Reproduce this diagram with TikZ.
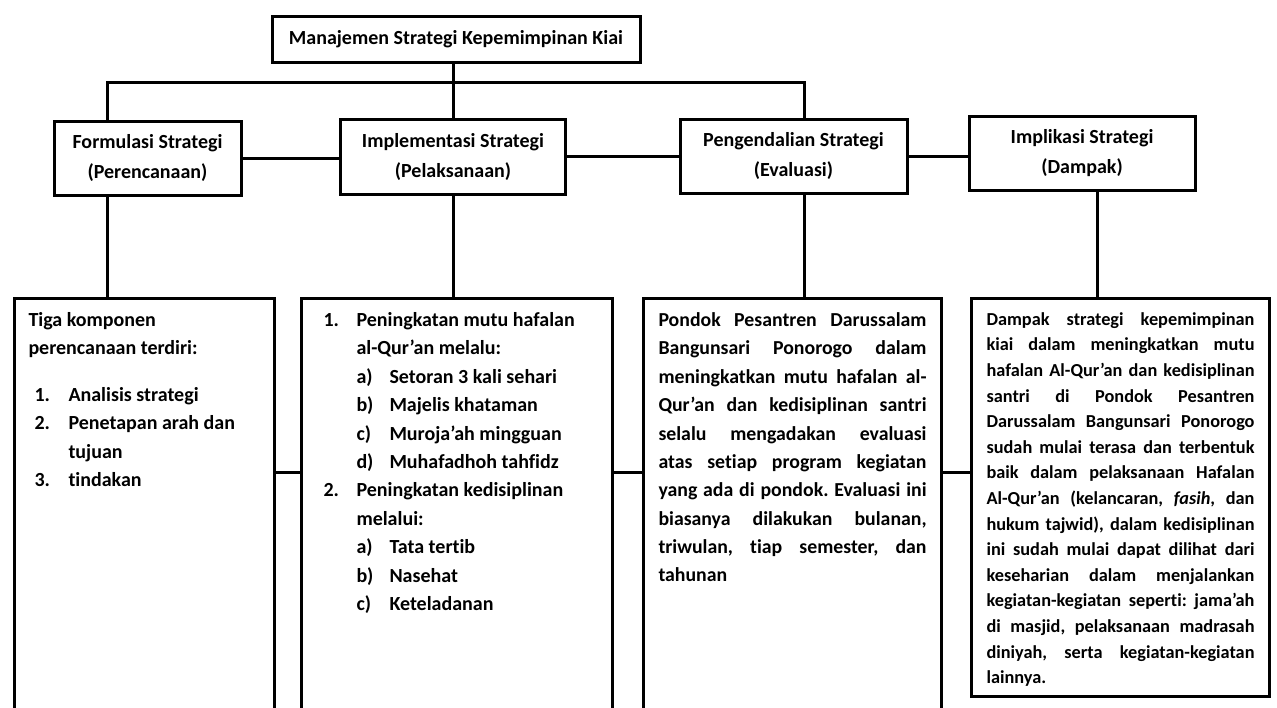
\documentclass[tikz,border=0pt]{standalone}
\usepackage{fontspec}
\setmainfont{Carlito}[Ligatures={TeX,NoCommon}]
\frenchspacing
\newcommand{\jline}[1]{\makebox[\linewidth][s]{#1}\\}
\begin{document}
\begin{tikzpicture}[x=1pt,y=-1pt,
    box/.style={draw,line width=3pt,inner sep=0pt,align=center,font=\fontsize{20}{30}\selectfont\bfseries},
    panel/.style={draw,line width=3pt,anchor=north west,inner xsep=15pt,inner ysep=14pt,font=\bfseries},
    link/.style={line width=3pt}]
    \useasboundingbox (0,0) rectangle (1277,707);
    \clip (0,0) rectangle (1277,707);
    \node[box,minimum width=368pt,minimum height=46pt] (kiai) at (456,39) {Manajemen Strategi Kepemimpinan Kiai};
    \node[box,minimum width=187pt,minimum height=74pt] (form) at (147.5,158) {Formulasi Strategi\\(Perencanaan)};
    \node[box,minimum width=225pt,minimum height=75pt] (impl) at (453,156.5) {Implementasi Strategi\\(Pelaksanaan)};
    \node[box,minimum width=227pt,minimum height=74pt] (eval) at (793.5,156) {Pengendalian Strategi\\(Evaluasi)};
    \node[box,minimum width=226pt,minimum height=74pt] (dampak) at (1082,153) {Implikasi Strategi\\(Dampak)};
    \coordinate (bus) at (453,82);
    \coordinate (row) at (0,472);
    \node[panel,inner xsep=14pt] (formtxt) at (13,297) {\parbox[c][500pt][t]{232pt}{\fontsize{20}{28.4}\selectfont
        Tiga komponen\\
        perencanaan terdiri:\\[18pt]
        \hspace*{6pt}\makebox[34pt][l]{1.}Analisis strategi\\
        \hspace*{6pt}\makebox[34pt][l]{2.}Penetapan arah dan\\
        \hspace*{40pt}tujuan\\
        \hspace*{6pt}\makebox[34pt][l]{3.}tindakan}};
    \node[panel,inner xsep=22pt] (impltxt) at (300,297) {\parbox[c][500pt][t]{267pt}{\fontsize{20}{28.4}\selectfont
        \makebox[33pt][l]{1.}Peningkatan mutu hafalan\\
        \hspace*{33pt}al-Qur’an melalu:\\
        \hspace*{33pt}\makebox[33pt][l]{a)}Setoran 3 kali sehari\\
        \hspace*{33pt}\makebox[33pt][l]{b)}Majelis khataman\\
        \hspace*{33pt}\makebox[33pt][l]{c)}Muroja’ah mingguan\\
        \hspace*{33pt}\makebox[33pt][l]{d)}Muhafadhoh tahfidz\\
        \makebox[33pt][l]{2.}Peningkatan kedisiplinan\\
        \hspace*{33pt}melalui:\\
        \hspace*{33pt}\makebox[33pt][l]{a)}Tata tertib\\
        \hspace*{33pt}\makebox[33pt][l]{b)}Nasehat\\
        \hspace*{33pt}\makebox[33pt][l]{c)}Keteladanan}};
    \node[panel] (evaltxt) at (642,297) {\parbox[c][500pt][t]{268pt}{\fontsize{19.8}{28.4}\selectfont
        \jline{Pondok Pesantren Darussalam}
        \jline{Bangunsari Ponorogo dalam}
        \jline{meningkatkan mutu hafalan al-}
        \jline{Qur’an dan kedisiplinan santri}
        \jline{selalu mengadakan evaluasi}
        \jline{atas setiap program kegiatan}
        \jline{yang ada di pondok. Evaluasi ini}
        \jline{biasanya dilakukan bulanan,}
        \jline{triwulan, tiap semester, dan}
        tahunan}};
    \node[panel] (dampaktxt) at (970,297) {\parbox[c][370pt][t]{268pt}{\fontsize{18.3}{25.6}\selectfont
        \jline{Dampak strategi kepemimpinan}
        \jline{kiai dalam meningkatkan mutu}
        \jline{hafalan Al-Qur'an dan kedisiplinan}
        \jline{santri di Pondok Pesantren}
        \jline{Darussalam Bangunsari Ponorogo}
        \jline{sudah mulai terasa dan terbentuk}
        \jline{baik dalam pelaksanaan Hafalan}
        \jline{Al-Qur'an (kelancaran, \textit{fasih}, dan}
        \jline{hukum tajwid), dalam kedisiplinan}
        \jline{ini sudah mulai dapat dilihat dari}
        \jline{keseharian dalam menjalankan}
        \jline{kegiatan-kegiatan seperti: jama'ah}
        \jline{di masjid, pelaksanaan madrasah}
        \jline{diniyah, serta kegiatan-kegiatan}
        lainnya.}};
    \draw[link] (kiai.south -| impl.north) -- (bus);
    \draw[link] ([xshift=-40.5pt]form.north) |- (bus) -| ([xshift=10.5pt]eval.north);
    \draw[link] (bus) -- (impl.north);
    \draw[link] (form.east) -- (form.east -| impl.west);
    \draw[link] (impl.east) -- (impl.east -| eval.west);
    \draw[link] (eval.east) -- (eval.east -| dampak.west);
    \draw[link] ([xshift=-40.5pt]form.south) -- ([xshift=-40.5pt]form.south |- formtxt.north);
    \draw[link] (impl.south) -- (impl.south |- impltxt.north);
    \draw[link] ([xshift=10.5pt]eval.south) -- ([xshift=10.5pt]eval.south |- evaltxt.north);
    \draw[link] ([xshift=15pt]dampak.south) -- ([xshift=15pt]dampak.south |- dampaktxt.north);
    \draw[link] (formtxt.east |- row) -- (impltxt.west |- row);
    \draw[link] (impltxt.east |- row) -- (evaltxt.west |- row);
    \draw[link] (evaltxt.east |- row) -- (dampaktxt.west |- row);
\end{tikzpicture}
\end{document}
